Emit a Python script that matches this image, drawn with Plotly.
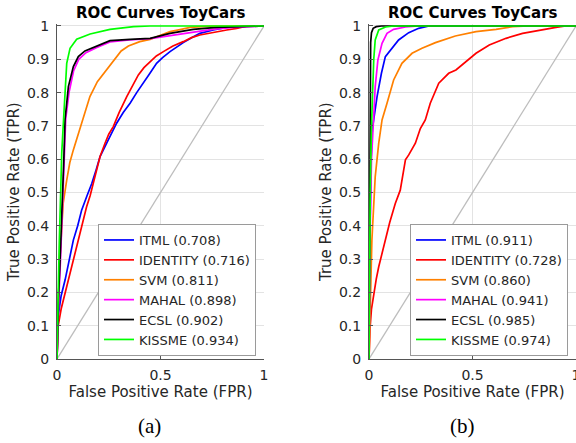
import plotly.graph_objects as go

# ---------------- data ----------------
METHODS = ["ITML", "IDENTITY", "SVM", "MAHAL", "ECSL", "KISSME"]
AUC_A = ["0.708", "0.716", "0.811", "0.898", "0.902", "0.934"]
AUC_B = ["0.911", "0.728", "0.860", "0.941", "0.985", "0.974"]

# panel (a)
ITML_A_FPR = [0, 0.004, 0.006, 0.02, 0.039, 0.06, 0.079, 0.1, 0.119, 0.145, 0.168, 0.19, 0.208, 0.24, 0.265, 0.288, 0.32, 0.353, 0.385, 0.417, 0.449, 0.481, 0.51, 0.546, 0.58, 0.61, 0.65, 0.69, 0.755, 0.82, 0.9, 1]
ITML_A_TPR = [0, 0.1, 0.13, 0.19, 0.237, 0.3, 0.357, 0.4, 0.447, 0.49, 0.527, 0.57, 0.608, 0.648, 0.68, 0.708, 0.74, 0.768, 0.8, 0.828, 0.858, 0.888, 0.905, 0.923, 0.938, 0.95, 0.965, 0.978, 0.988, 0.996, 1.0, 1.0]

IDENT_A_FPR = [0, 0.005, 0.02, 0.04, 0.063, 0.083, 0.103, 0.123, 0.143, 0.16, 0.176, 0.192, 0.208, 0.232, 0.25, 0.272, 0.3, 0.337, 0.365, 0.393, 0.42, 0.449, 0.48, 0.514, 0.56, 0.61, 0.65, 0.69, 0.73, 0.77, 0.82, 0.868, 0.92, 1]
IDENT_A_TPR = [0, 0.097, 0.15, 0.2, 0.258, 0.31, 0.357, 0.41, 0.457, 0.49, 0.527, 0.57, 0.608, 0.648, 0.675, 0.698, 0.74, 0.788, 0.823, 0.853, 0.875, 0.893, 0.91, 0.923, 0.94, 0.953, 0.965, 0.973, 0.978, 0.983, 0.988, 0.993, 1.0, 1.0]

SVM_A_FPR = [0, 0.003, 0.008, 0.014, 0.019, 0.03, 0.047, 0.062, 0.079, 0.095, 0.111, 0.135, 0.159, 0.195, 0.235, 0.272, 0.31, 0.345, 0.4, 0.45, 0.5, 0.546, 0.6, 0.643, 0.7, 0.77, 1]
SVM_A_TPR = [0, 0.1, 0.2, 0.3, 0.357, 0.468, 0.537, 0.59, 0.628, 0.66, 0.688, 0.74, 0.788, 0.833, 0.865, 0.898, 0.925, 0.940, 0.953, 0.96, 0.972, 0.983, 0.99, 0.996, 0.998, 1.0, 1.0]

MAHAL_A_FPR = [0, 0.004, 0.01, 0.017, 0.024, 0.03, 0.035, 0.042, 0.058, 0.08, 0.105, 0.14, 0.19, 0.256, 0.35, 0.45, 0.55, 0.65, 0.75, 0.85, 0.95, 1]
MAHAL_A_TPR = [0, 0.1, 0.2, 0.3, 0.4, 0.5, 0.6, 0.72, 0.8, 0.865, 0.9, 0.92, 0.935, 0.952, 0.958, 0.962, 0.972, 0.982, 0.99, 0.996, 1.0, 1.0]

ECSL_A_FPR = [0, 0.003, 0.008, 0.015, 0.022, 0.028, 0.033, 0.039, 0.055, 0.079, 0.103, 0.135, 0.19, 0.256, 0.353, 0.45, 0.546, 0.658, 0.77, 0.92, 1]
ECSL_A_TPR = [0, 0.1, 0.2, 0.3, 0.4, 0.5, 0.6, 0.72, 0.818, 0.878, 0.908, 0.925, 0.938, 0.956, 0.96, 0.963, 0.978, 0.99, 0.996, 1.0, 1.0]

KISS_A_FPR = [0, 0.002, 0.006, 0.011, 0.017, 0.023, 0.03, 0.038, 0.047, 0.063, 0.095, 0.16, 0.256, 0.37, 0.45, 1]
KISS_A_TPR = [0, 0.1, 0.2, 0.35, 0.5, 0.62, 0.7, 0.8, 0.888, 0.933, 0.96, 0.976, 0.99, 0.998, 1.0, 1.0]

# panel (b)
ITML_B_FPR = [0, 0.002, 0.005, 0.01, 0.016, 0.039, 0.06, 0.079, 0.111, 0.143, 0.192, 0.24, 0.29, 1]
ITML_B_TPR = [0, 0.2, 0.4, 0.6, 0.69, 0.788, 0.858, 0.908, 0.933, 0.958, 0.98, 0.993, 1.0, 1.0]

IDENT_B_FPR = [0, 0.005, 0.012, 0.023, 0.035, 0.047, 0.063, 0.079, 0.1, 0.127, 0.151, 0.176, 0.192, 0.224, 0.248, 0.272, 0.296, 0.337, 0.385, 0.42, 0.469, 0.517, 0.581, 0.662, 0.742, 0.823, 0.903, 0.95, 1]
IDENT_B_TPR = [0, 0.092, 0.15, 0.197, 0.24, 0.277, 0.32, 0.357, 0.41, 0.467, 0.507, 0.598, 0.613, 0.648, 0.692, 0.718, 0.768, 0.828, 0.858, 0.868, 0.893, 0.918, 0.943, 0.963, 0.978, 0.988, 0.996, 1.0, 1.0]

SVM_B_FPR = [0, 0.003, 0.006, 0.01, 0.014, 0.019, 0.03, 0.047, 0.063, 0.087, 0.119, 0.159, 0.208, 0.256, 0.321, 0.417, 0.517, 0.614, 0.694, 0.77, 1]
SVM_B_TPR = [0, 0.1, 0.2, 0.3, 0.357, 0.417, 0.547, 0.648, 0.718, 0.768, 0.838, 0.888, 0.918, 0.933, 0.95, 0.97, 0.983, 0.99, 0.998, 1.0, 1.0]

MAHAL_B_FPR = [0, 0.002, 0.006, 0.012, 0.02, 0.03, 0.043, 0.063, 0.087, 0.119, 0.176, 0.24, 1]
MAHAL_B_TPR = [0, 0.2, 0.4, 0.6, 0.7, 0.818, 0.898, 0.948, 0.978, 0.99, 0.997, 1.0, 1.0]

ECSL_B_FPR = [0, 0.002, 0.004, 0.006, 0.008, 0.012, 0.02, 0.035, 0.06, 1]
ECSL_B_TPR = [0, 0.3, 0.6, 0.85, 0.95, 0.98, 0.993, 0.998, 1.0, 1.0]

KISS_B_FPR = [0, 0.002, 0.006, 0.012, 0.018, 0.023, 0.03, 0.047, 0.08, 0.12, 1]
KISS_B_TPR = [0, 0.3, 0.5, 0.7, 0.82, 0.9, 0.958, 0.988, 0.997, 1.0, 1.0]

CHANCE = [0, 1]

X_TICKS = [0, 0.5, 1]
X_TICKTEXT = ["0", "0.5", "1"]
Y_TICKS = [0, 0.1, 0.2, 0.3, 0.4, 0.5, 0.6, 0.7, 0.8, 0.9, 1]
Y_TICKTEXT = ["0", "0.1", "0.2", "0.3", "0.4", "0.5", "0.6", "0.7", "0.8", "0.9", "1"]

COLORS = ["#0000ff", "#ff0000", "#ff8000", "#ff00ff", "#000000", "#00ff00"]

PANEL_A = [(ITML_A_FPR, ITML_A_TPR), (IDENT_A_FPR, IDENT_A_TPR), (SVM_A_FPR, SVM_A_TPR),
           (MAHAL_A_FPR, MAHAL_A_TPR), (ECSL_A_FPR, ECSL_A_TPR), (KISS_A_FPR, KISS_A_TPR)]
PANEL_B = [(ITML_B_FPR, ITML_B_TPR), (IDENT_B_FPR, IDENT_B_TPR), (SVM_B_FPR, SVM_B_TPR),
           (MAHAL_B_FPR, MAHAL_B_TPR), (ECSL_B_FPR, ECSL_B_TPR), (KISS_B_FPR, KISS_B_TPR)]

# ---------------- figure ----------------
W, H = 576, 443
FONT = "DejaVu Sans"
TXT = "#262626"

fig = go.Figure()

panels = [("x", "y", "legend", PANEL_A, AUC_A), ("x2", "y2", "legend2", PANEL_B, AUC_B)]
for xa, ya, lg, curves, aucs in panels:
    fig.add_trace(go.Scatter(x=CHANCE, y=CHANCE, mode="lines", xaxis=xa, yaxis=ya,
                             line=dict(color="#bdbdbd", width=1.3), showlegend=False,
                             hoverinfo="skip"))
    for (fx, ty), name, auc, col in zip(curves, METHODS, aucs, COLORS):
        fig.add_trace(go.Scatter(x=fx, y=ty, mode="lines", xaxis=xa, yaxis=ya,
                                 name=f"{name} ({auc})", legend=lg,
                                 line=dict(color=col, width=1.7)))

y_bottom = 359
y_top = 359 - 333 * 1.005
ydom = [(H - y_bottom) / H, (H - y_top) / H]
xdomA = [57 / W, 264 / W]
xdomB = [369 / W, 576 / W]

def xaxis(dom, anchor):
    return dict(domain=dom, anchor=anchor, range=[0, 1], tickvals=X_TICKS, ticktext=X_TICKTEXT,
                automargin=False, ticklabeloverflow="allow",
                showgrid=True, gridcolor="#e3e3e3", gridwidth=1, zeroline=False,
                showline=True, linecolor="#555555", linewidth=1, ticks="inside", ticklen=4,
                tickcolor="#555555", tickfont=dict(family=FONT, size=14, color=TXT),
                ticklabelstandoff=3,
                title=dict(text="False Positive Rate (FPR)", standoff=4,
                           font=dict(family=FONT, size=15, color=TXT)))

def yaxis(anchor):
    return dict(domain=ydom, anchor=anchor, range=[0, 1.005], tickvals=Y_TICKS, ticktext=Y_TICKTEXT,
                automargin=False,
                showgrid=True, gridcolor="#e3e3e3", gridwidth=1, zeroline=False,
                showline=True, linecolor="#555555", linewidth=1, ticks="inside", ticklen=4,
                tickcolor="#555555", tickfont=dict(family=FONT, size=14, color=TXT),
                ticklabelstandoff=4,
                title=dict(text="True Positive Rate (TPR)", standoff=3,
                           font=dict(family=FONT, size=15, color=TXT)))

legend_common = dict(bgcolor="white", bordercolor="#9a9a9a", borderwidth=1,
                     font=dict(family=FONT, size=13, color=TXT),
                     xanchor="right", yanchor="bottom", tracegroupgap=0,
                     itemclick=False)

def ann(text, xc, yc, family, size, color="black"):
    return dict(text=text, x=xc, y=yc, xref="paper", yref="paper", showarrow=False,
                xanchor="center", yanchor="middle",
                font=dict(family=family, size=size, color=color))

fig.update_layout(
    width=W, height=H, margin=dict(l=0, r=0, t=0, b=0),
    paper_bgcolor="white", plot_bgcolor="white",
    xaxis=xaxis(xdomA, "y"), yaxis=yaxis("x"),
    xaxis2=xaxis(xdomB, "y2"), yaxis2=yaxis("x2"),
    legend=dict(x=256 / W, y=(H - 356) / H, **legend_common),
    legend2=dict(x=568 / W, y=(H - 356) / H, **legend_common),
    annotations=[
        ann("<b>ROC Curves ToyCars</b>", sum(xdomA) / 2, (H - 13) / H, FONT, 15),
        ann("<b>ROC Curves ToyCars</b>", sum(xdomB) / 2, (H - 13) / H, FONT, 15),
        ann("(a)", 149 / W, (H - 426) / H, "Liberation Serif", 21),
        ann("(b)", 462 / W, (H - 426) / H, "Liberation Serif", 21),
    ],
)

fig.write_html("out.html")
